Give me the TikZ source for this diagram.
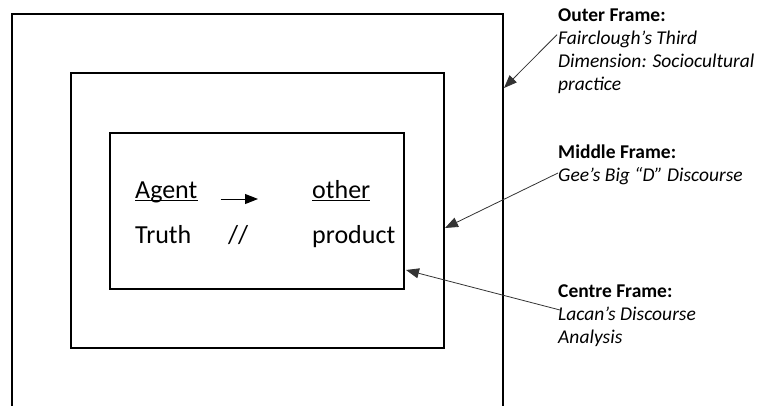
\documentclass[tikz,border=0pt]{standalone}
\usepackage{fontspec}
\setmainfont{Carlito}
\usetikzlibrary{arrows.meta}
\begin{document}
\begin{tikzpicture}[x=1pt, y=-1pt,
    frame/.style={line width=1.8pt},
    pointer/.style={line width=0.8pt, black!80, -{Triangle[length=13pt,width=10pt]}},
    lbl/.style={anchor=base west, inner sep=0pt, align=left, font=\fontsize{19.5}{23}\selectfont},
    word/.style={anchor=base west, inner sep=0pt, font=\fontsize{26}{30}\selectfont}]
        \clip (0,0) rectangle (757,405);
        %frames
        \draw[frame] (12,420) |- (503,14) -- (503,420);
        \draw[frame] (71,73) rectangle (444,348);
        \draw[frame] (110,133) rectangle (404,289);
        %words in the centre frame
        \node[word] (agent) at (135,198) {Agent};
        \node[word] (other) at (312,198) {other};
        \node[word] (truth) at (135,243) {Truth};
        \node[word] (bars) at (228,243) {//};
        \node[word] (product) at (312,243) {product};
        \draw[line width=1.1pt] ([yshift=-2.5pt]agent.base west) -- ([yshift=-2.5pt]agent.base east);
        \draw[line width=1.1pt] ([yshift=-2.5pt]other.base west) -- ([yshift=-2.5pt]other.base east);
        \draw[line width=1pt, -{Triangle[length=13pt,width=10pt]}] ([xshift=23pt,yshift=-1pt]agent.base east) -- ([xshift=-54pt,yshift=-1pt]other.base west);
        %labels (base = last line)
        \node[lbl] (outerlbl) at (558,90.7) {\textbf{Outer Frame:}\\\textit{Fairclough’s Third}\\\textit{Dimension: Sociocultural}\\\textit{practice}};
        \node[lbl] (middlelbl) at (558,181) {\textbf{Middle Frame:}\\\textit{Gee’s Big “D” Discourse}};
        \node[lbl] (centrelbl) at (558,343) {\textbf{Centre Frame:}\\\textit{Lacan’s Discourse}\\\textit{Analysis}};
        %arrows to the frames
        \coordinate (outertip) at (504,88);
        \coordinate (middletip) at (445,228);
        \coordinate (centretip) at (406,270);
        \draw[pointer] ([shift={(-1,-56)}]outerlbl.base west) -- (outertip);
        \draw[pointer] ([shift={(0,-8)}]middlelbl.base west) -- (middletip);
        \draw[pointer] ([shift={(2,-33)}]centrelbl.base west) -- (centretip);
\end{tikzpicture}
\end{document}
